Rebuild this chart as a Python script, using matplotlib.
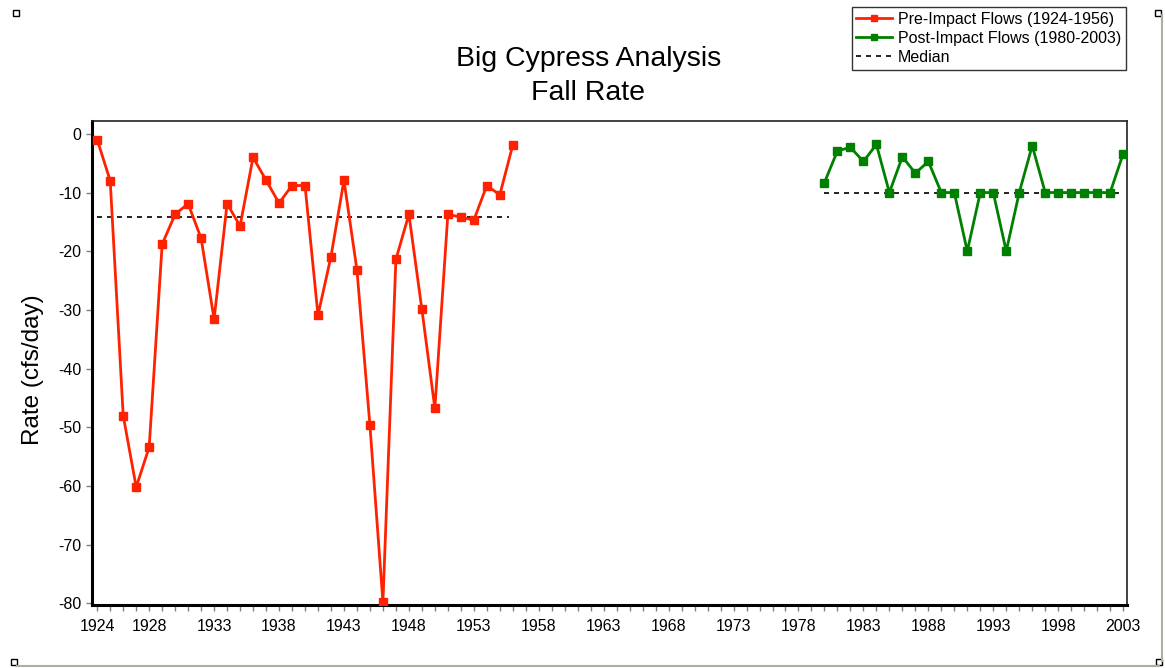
import matplotlib
matplotlib.use("Agg")
import matplotlib.pyplot as plt
from matplotlib.patches import Rectangle
from matplotlib.lines import Line2D
from matplotlib.ticker import FixedLocator, MultipleLocator
import numpy as np

# 数据
pre_years = list(range(1924, 1957))
pre_rate = [-1, -8, -48, -60.2, -53.4, -18.8, -13.7, -11.9, -17.8, -31.6,
            -11.9, -15.7, -4, -7.9, -11.8, -8.8, -8.8, -30.9, -20.9, -7.9,
            -23.2, -49.7, -79.8, -21.4, -13.7, -29.9, -46.8, -13.7, -14.2,
            -14.7, -8.8, -10.4, -1.9]
post_years = list(range(1980, 2004))
post_rate = [-8.3, -2.9, -2.3, -4.7, -1.8, -10, -3.9, -6.7, -4.7, -10,
             -10, -20, -10, -10, -20, -10, -2, -10, -10, -10,
             -10, -10, -10, -3.4]
xtick_years = [1924, 1928, 1933, 1938, 1943, 1948, 1953, 1958, 1963, 1968,
               1973, 1978, 1983, 1988, 1993, 1998, 2003]
yticks = list(range(0, -81, -10))

plt.rcParams['font.family'] = ['Liberation Sans', 'DejaVu Sans']
plt.rcParams['axes.unicode_minus'] = False

fig = plt.figure(figsize=(11.65, 6.68), dpi=100)
ax = fig.add_axes([0.079, 0.0943, 0.8884, 0.7246])

red = '#ff2200'
green = '#008000'
ax.plot(pre_years, pre_rate, '-s', color=red, lw=2, ms=6,
        label='Pre-Impact Flows (1924-1956)', zorder=3)
ax.plot(post_years, post_rate, '-s', color=green, lw=2, ms=6,
        label='Post-Impact Flows (1980-2003)', zorder=3)

# 中位数线
pre_med = np.median(pre_rate)
post_med = np.median(post_rate)
ax.plot([pre_years[0], pre_years[-1] - 0.3], [pre_med, pre_med], '--', color='black',
        lw=1.2, dashes=(3, 3), label='Median', zorder=2)
ax.plot([post_years[0], post_years[-1] - 0.3], [post_med, post_med], '--', color='black',
        lw=1.2, dashes=(3, 3), zorder=2)

ax.set_xlim(1923.6, 2003.3)
ax.set_ylim(-80.3, 2.2)
ax.xaxis.set_major_locator(FixedLocator(xtick_years))
ax.xaxis.set_minor_locator(MultipleLocator(1))
ax.set_yticks(yticks)
ax.tick_params(axis='both', which='both', direction='out', color='#808080',
               length=4, width=1, labelsize=11.5)
ax.tick_params(axis='x', which='major', pad=6)

for s in ['left', 'bottom']:
    ax.spines[s].set_linewidth(2.2)
for s in ['top', 'right']:
    ax.spines[s].set_linewidth(1.2)
    ax.spines[s].set_color('#222222')

fig.text(0.505, 0.8855, 'Big Cypress Analysis\nFall Rate', ha='center', va='center',
         fontsize=20.5, linespacing=1.4)
fig.text(0.0283, 0.446, 'Rate (cfs/day)', rotation=90, ha='center', va='center',
         fontsize=17.5)

leg = fig.legend(loc='upper right', bbox_to_anchor=(0.9665, 0.9895),
                 fontsize=11.5, frameon=True, fancybox=False, edgecolor='black',
                 handlelength=2.2, handletextpad=0.4, borderpad=0.3,
                 labelspacing=0.25, borderaxespad=0, markerscale=0.7)
leg.get_frame().set_linewidth(1)

# 外框装饰
fig.add_artist(Line2D([1162/1165, 1162/1165], [0.01, 0.978], color='#b0aca0', lw=1.5))
fig.add_artist(Line2D([0.015, 0.995], [1-666/668, 1-666/668], color='#b0aca0', lw=1.5))
for (px, py) in [(16, 13), (1158, 13), (14, 662), (1159, 662)]:
    fig.add_artist(Rectangle((px/1165 - 0.003, 1 - py/668 - 0.005), 0.006, 0.010,
                             facecolor='white', edgecolor='black', lw=1))

fig.savefig('out.png', dpi=100)
